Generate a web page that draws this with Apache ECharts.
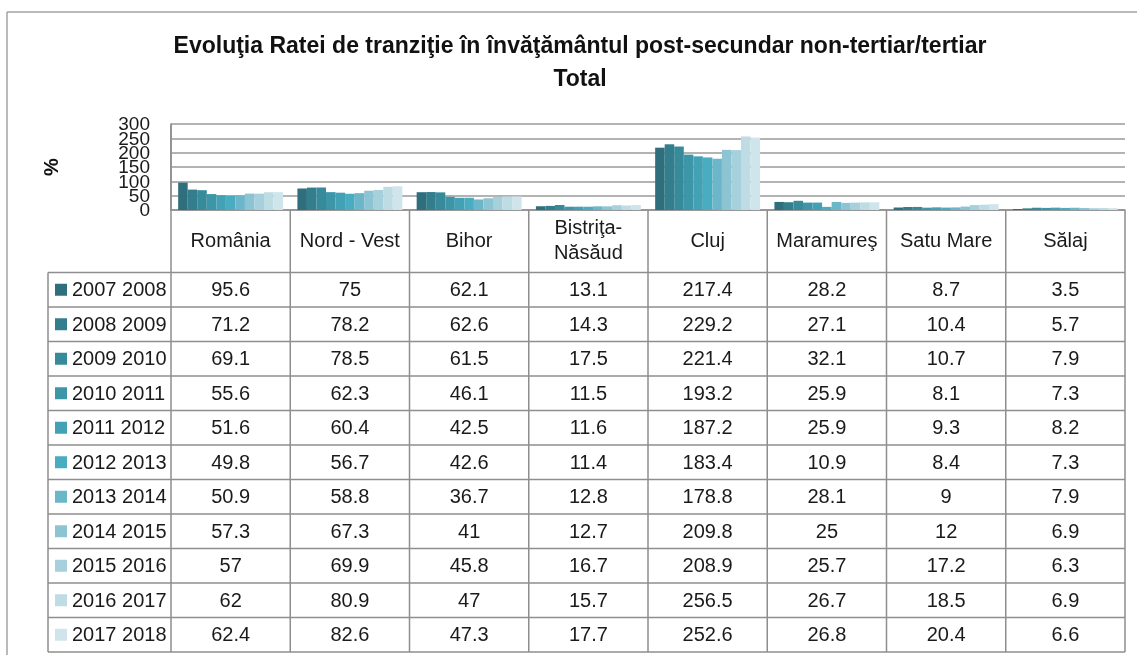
<!DOCTYPE html>
<html>
<head>
<meta charset="utf-8">
<title>Evoluţia Ratei de tranziţie</title>
<script src="https://cdn.jsdelivr.net/npm/echarts@6/dist/echarts.min.js"></script>
<style>
    html, body { margin: 0; padding: 0; background: #fff; }
    #main { width: 1137px; height: 655px; }
</style>
</head>
<body>
<div id="main"></div>
<script>
// 类别 (judeţe)
const categories = ['România', 'Nord - Vest', 'Bihor', 'Bistriţa-\nNăsăud', 'Cluj', 'Maramureş', 'Satu Mare', 'Sălaj']
// 年份 (serii)
const years = ['2007 2008', '2008 2009', '2009 2010', '2010 2011', '2011 2012', '2012 2013',
    '2013 2014', '2014 2015', '2015 2016', '2016 2017', '2017 2018']
// valori pe ani
const v2007 = [95.6, 75, 62.1, 13.1, 217.4, 28.2, 8.7, 3.5]
const v2008 = [71.2, 78.2, 62.6, 14.3, 229.2, 27.1, 10.4, 5.7]
const v2009 = [69.1, 78.5, 61.5, 17.5, 221.4, 32.1, 10.7, 7.9]
const v2010 = [55.6, 62.3, 46.1, 11.5, 193.2, 25.9, 8.1, 7.3]
const v2011 = [51.6, 60.4, 42.5, 11.6, 187.2, 25.9, 9.3, 8.2]
const v2012 = [49.8, 56.7, 42.6, 11.4, 183.4, 10.9, 8.4, 7.3]
const v2013 = [50.9, 58.8, 36.7, 12.8, 178.8, 28.1, 9, 7.9]
const v2014 = [57.3, 67.3, 41, 12.7, 209.8, 25, 12, 6.9]
const v2015 = [57, 69.9, 45.8, 16.7, 208.9, 25.7, 17.2, 6.3]
const v2016 = [62, 80.9, 47, 15.7, 256.5, 26.7, 18.5, 6.9]
const v2017 = [62.4, 82.6, 47.3, 17.7, 252.6, 26.8, 20.4, 6.6]
const seriesValues = [v2007, v2008, v2009, v2010, v2011, v2012, v2013, v2014, v2015, v2016, v2017]
// axa Y
const yMin = 0
const yMax = 300
const yStep = 50
const yTicks = [0, 50, 100, 150, 200, 250, 300]

const colors = ['#2f6f7d', '#337d8c', '#378a9a', '#3c96a8', '#42a1b5', '#49acc1',
    '#6bb6c9', '#8dc4d3', '#a5d0dc', '#bddce4', '#d0e5eb']
const font = "'Liberation Sans', Arial, sans-serif"
const lineColor = '#8e8e8e'

function chart() {
    const dom = document.querySelector('#main')
    const myChart = echarts.init(dom)
    const option = {
        animation: false,
        color: colors,
        textStyle: { fontFamily: font },
        grid: {
            left: 171,
            right: 12,
            top: 124,
            bottom: 445,
            outerBoundsMode: 'none'
        },
        xAxis: {
            type: 'category',
            data: categories,
            axisLine: { lineStyle: { color: lineColor, width: 1.5 } },
            axisTick: { show: false },
            axisLabel: { show: false }
        },
        yAxis: {
            type: 'value',
            min: yMin,
            max: yMax,
            interval: yStep,
            name: '%',
            nameLocation: 'middle',
            nameGap: 109,
            nameRotate: 90,
            nameTextStyle: { fontSize: 20, fontWeight: 'bold', color: '#111', fontFamily: font },
            axisLine: { show: true, lineStyle: { color: lineColor, width: 1.5 } },
            axisTick: { show: false },
            // etichetele se suprapun în original -> desenate mai jos, toate
            axisLabel: { show: false },
            splitLine: { lineStyle: { color: '#9a9a9a', width: 1.5 } }
        },
        series: years.map((name, i) => ({
            name: name,
            type: 'bar',
            data: seriesValues[i],
            barGap: '0%',
            barCategoryGap: '12%'
        }))
    }
    myChart.setOption(option)

    // 表格 (data table under the plot)
    const c0 = myChart.convertToPixel({ xAxisIndex: 0 }, 0)
    const c1 = myChart.convertToPixel({ xAxisIndex: 0 }, 1)
    const colW = c1 - c0
    const axisY = myChart.convertToPixel({ yAxisIndex: 0 }, yMin)
    const topY = myChart.convertToPixel({ yAxisIndex: 0 }, yMax)
    const plotLeft = c0 - colW / 2
    const plotRight = plotLeft + colW * categories.length
    const tableLeft = 48
    const headerBottom = 272.5
    const rowH = 34.5
    const tableBottom = headerBottom + rowH * years.length
    const lineStyle = { stroke: lineColor, lineWidth: 1.5 }
    const els = []
    const line = (x1, y1, x2, y2, st) => els.push({
        type: 'line', silent: true,
        shape: { x1: x1, y1: y1, x2: x2, y2: y2 },
        style: st || lineStyle
    })
    const text = (t, x, y, opt) => els.push({
        type: 'text', silent: true,
        style: Object.assign({
            text: t, x: x, y: y, fill: '#1a1a1a',
            font: '20px ' + font, align: 'center', verticalAlign: 'middle'
        }, opt || {})
    })

    // chenar exterior
    line(7, 12, 1137, 12, { stroke: '#a3a3a3', lineWidth: 1.5 })
    line(7, 12, 7, 655, { stroke: '#a3a3a3', lineWidth: 1.5 })

    // titlu
    text('Evoluţia Ratei de tranziţie în învăţământul post-secundar non-tertiar/tertiar', 580, 47,
        { font: 'bold 23px ' + font, fill: '#111' })
    text('Total', 580, 80, { font: 'bold 23px ' + font, fill: '#111' })

    // etichete axa Y
    yTicks.forEach(v => {
        text(String(v), plotLeft - 21, myChart.convertToPixel({ yAxisIndex: 0 }, v) + 1,
            { align: 'right', font: '19px ' + font })
    })

    // linii orizontale
    line(tableLeft, headerBottom, plotRight, headerBottom)
    for (let r = 1; r <= years.length; r++) {
        line(tableLeft, headerBottom + r * rowH, plotRight, headerBottom + r * rowH)
    }
    // linii verticale
    line(tableLeft, headerBottom, tableLeft, tableBottom)
    line(plotLeft, topY, plotLeft, tableBottom)
    for (let k = 1; k <= categories.length; k++) {
        line(plotLeft + k * colW, axisY, plotLeft + k * colW, tableBottom)
    }

    // antet
    categories.forEach((name, i) => {
        const cx = myChart.convertToPixel({ xAxisIndex: 0 }, i)
        text(name, cx, (axisY + headerBottom) / 2, { lineHeight: 25 })
    })

    // rânduri
    years.forEach((name, r) => {
        const cy = headerBottom + r * rowH + rowH / 2
        els.push({
            type: 'rect', silent: true,
            shape: { x: 55, y: cy - 6, width: 12, height: 12 },
            style: { fill: colors[r] }
        })
        text(name, 72, cy + 1, { align: 'left' })
        seriesValues[r].forEach((v, i) => {
            const cx = myChart.convertToPixel({ xAxisIndex: 0 }, i)
            text(String(v), cx, cy + 1)
        })
    })

    myChart.setOption({ graphic: els })
}
chart()
</script>
</body>
</html>
